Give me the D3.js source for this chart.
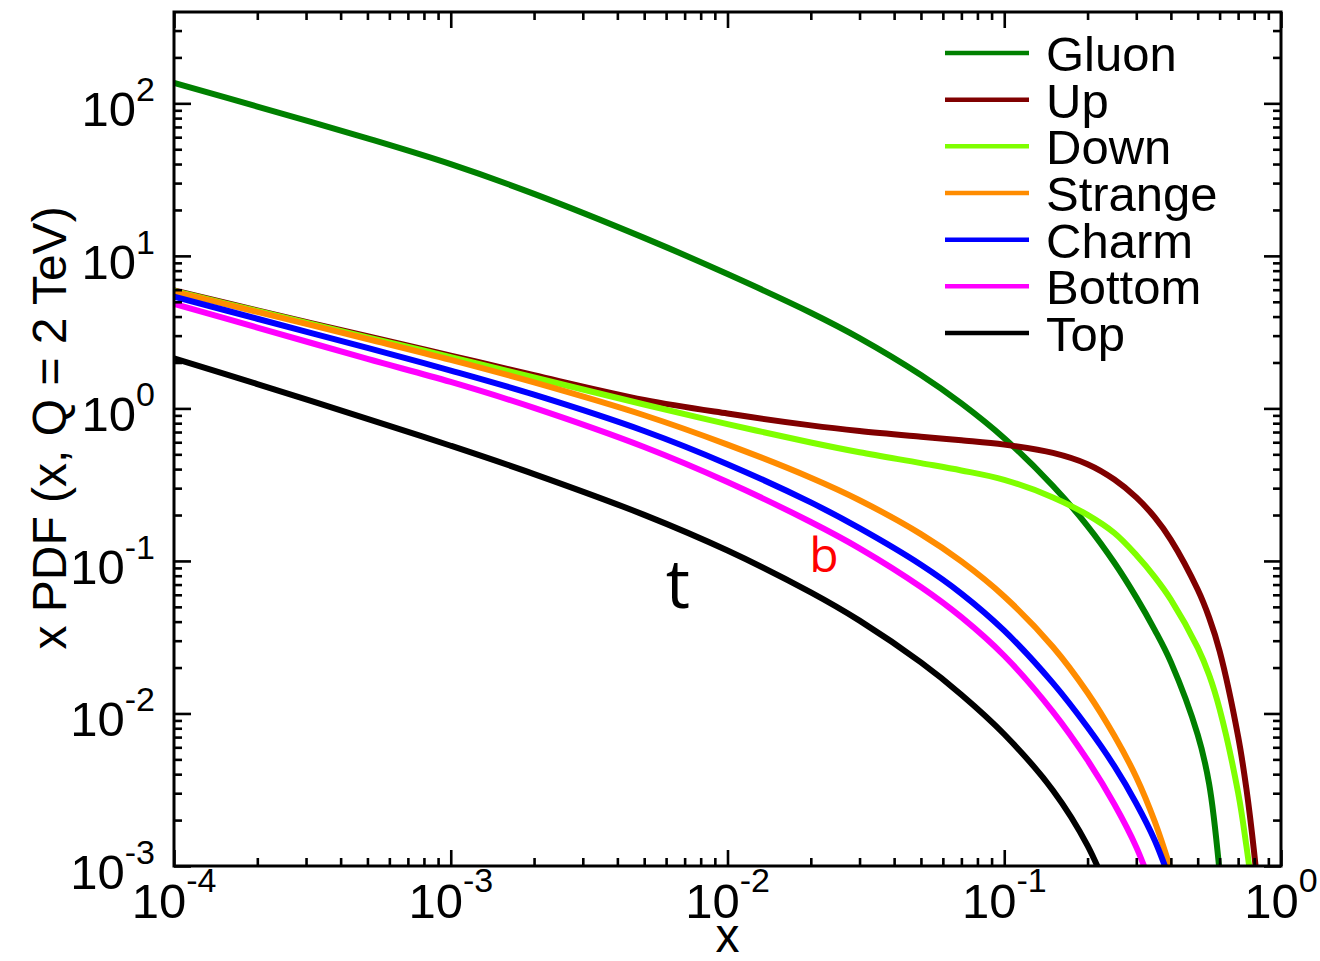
<!DOCTYPE html>
<html>
<head>
<meta charset="utf-8">
<script src="https://cdn.jsdelivr.net/npm/d3@7"></script>
<style>
  html, body { margin: 0; padding: 0; background: #fff; }
  svg { display: block; }
  text { font-family: "Liberation Sans", Arial, Helvetica, sans-serif; fill: #000; }
</style>
</head>
<body>
<svg id="chart" width="1320" height="961"></svg>
<script>
// ---------------- data ----------------
const xs = [1e-4, 2e-4, 5e-4, 1e-3, 2e-3, 5e-3, 0.01, 0.02, 0.03, 0.05, 0.07, 0.1,
            0.15, 0.2, 0.25, 0.3, 0.35, 0.4, 0.5, 0.55, 0.6, 0.7, 0.75, 0.8, 0.82];

const gluon   = [136, 95.3, 58.9, 39.9, 25.5, 13.12, 7.60, 4.24, 2.89, 1.656, 1.079, 0.638,
                 0.310, 0.1694, 0.0973, 0.0577, 0.0352, 0.0217, 0.00726, 0.00345, 0.000914, null, null, null, null];
const up      = [5.94, 4.39, 2.97, 2.22, 1.65, 1.137, 0.925, 0.774, 0.711, 0.652, 0.618, 0.579,
                 0.511, 0.431, 0.342, 0.261, 0.193, 0.1375, 0.0649, 0.0425, 0.0257, 0.00706, 0.0032, 0.00122, 0.000774];
const down    = [5.89, 4.35, 2.92, 2.17, 1.595, 1.061, 0.789, 0.598, 0.516, 0.438, 0.392, 0.340,
                 0.261, 0.2004, 0.1524, 0.1094, 0.0784, 0.0558, 0.0270, 0.01786, 0.01069, 0.00302, 0.00135, 0.000558, null];
const strange = [5.83, 4.29, 2.85, 2.08, 1.48, 0.902, 0.579, 0.351, 0.250, 0.150, 0.0993, 0.0585,
                 0.0273, 0.01368, 0.00714, 0.00382, 0.00195, 0.000946, null, null, null, null, null, null, null];
const charm   = [5.41, 3.87, 2.49, 1.77, 1.23, 0.711, 0.431, 0.242, 0.164, 0.0944, 0.0611, 0.0349,
                 0.0158, 0.00811, 0.00451, 0.00257, 0.00147, 0.00078, null, null, null, null, null, null, null];
const bottom  = [4.84, 3.39, 2.11, 1.49, 1.007, 0.558, 0.329, 0.180, 0.121, 0.0675, 0.0428, 0.0239,
                 0.01025, 0.00494, 0.00254, 0.00133, 0.000644, null, null, null, null, null, null, null, null];
const top_    = [2.13, 1.445, 0.855, 0.569, 0.371, 0.2005, 0.117, 0.0622, 0.0406, 0.0216, 0.01328, 0.00731,
                 0.00313, 0.00136, 0.000536, null, null, null, null, null, null, null, null, null, null];

const seriesNames  = ["Gluon", "Up", "Down", "Strange", "Charm", "Bottom", "Top"];
const seriesValues = [gluon, up, down, strange, charm, bottom, top_];
const seriesColors = ["#008000", "#800000", "#7fff00", "#ff8c00", "#0000ff", "#ff00ff", "#000000"];

const xTickExps = [-4, -3, -2, -1, 0];
const yTickExps = [-3, -2, -1, 0, 1, 2];

const xTitle = "x";
const yTitle = "x PDF (x, Q = 2 TeV)";
const annotations = [
  { text: "t", x: 0.00662, y: 0.0492, color: "#000000", size: 68 },
  { text: "b", x: 0.0223, y: 0.0847, color: "#ff0000", size: 48 }
];

// ---------------- layout ----------------
const L = 174, R = 1281, T = 12, B = 866;
const svg = d3.select("#chart");
svg.append("rect").attr("width", 1320).attr("height", 961).attr("fill", "#fff");

const x = d3.scaleLog().domain([1e-4, 1]).range([L, R]);
const y = d3.scaleLog().domain([1e-3, 397]).range([B, T]);

svg.append("clipPath").attr("id", "plotclip")
  .append("rect").attr("x", L).attr("y", T).attr("width", R - L).attr("height", B - T);

// ---------------- curves ----------------
const line = d3.line()
  .defined(d => d[1] != null)
  .x(d => x(d[0]))
  .y(d => y(d[1]))
  .curve(d3.curveCatmullRom.alpha(0.5));

const curves = svg.append("g").attr("clip-path", "url(#plotclip)");
seriesValues.forEach((vals, i) => {
  const pts = xs.map((xv, j) => [xv, vals[j]]);
  curves.append("path")
    .datum(pts)
    .attr("d", line)
    .attr("fill", "none")
    .attr("stroke", seriesColors[i])
    .attr("stroke-width", 6)
    .attr("stroke-linejoin", "round");
});

// ---------------- ticks (all four sides, pointing inward) ----------------
const isPow10 = v => Math.abs(Math.log10(v) - Math.round(Math.log10(v))) < 1e-9;
const xMajor = xTickExps.map(e => Math.pow(10, e));
const xMinor = x.ticks().filter(v => !isPow10(v));
const yMajor = yTickExps.map(e => Math.pow(10, e));
const yMinor = y.ticks().filter(v => !isPow10(v));

function drawAxis(gen, transform, vals, size) {
  const g = svg.append("g").attr("transform", transform)
    .call(gen.tickValues(vals).tickSizeInner(size).tickSizeOuter(0).tickFormat(""));
  g.select(".domain").remove();
  g.selectAll(".tick line").attr("stroke", "#000").attr("stroke-width", 2.6);
  return g;
}
drawAxis(d3.axisBottom(x), `translate(0,${B})`, xMajor, -16);
drawAxis(d3.axisBottom(x), `translate(0,${B})`, xMinor, -8);
drawAxis(d3.axisTop(x), `translate(0,${T})`, xMajor, -16);
drawAxis(d3.axisTop(x), `translate(0,${T})`, xMinor, -8);
drawAxis(d3.axisLeft(y), `translate(${L},0)`, yMajor, -17);
drawAxis(d3.axisLeft(y), `translate(${L},0)`, yMinor, -8);
drawAxis(d3.axisRight(y), `translate(${R},0)`, yMajor, -17);
drawAxis(d3.axisRight(y), `translate(${R},0)`, yMinor, -8);

// frame
svg.append("rect")
  .attr("x", L).attr("y", T).attr("width", R - L).attr("height", B - T)
  .attr("fill", "none").attr("stroke", "#000").attr("stroke-width", 3);

// ---------------- tick labels ----------------
xTickExps.forEach(e => {
  const t = svg.append("text")
    .attr("x", x(Math.pow(10, e)))
    .attr("y", B + 52)
    .attr("text-anchor", "middle")
    .style("font-size", "49px");
  t.append("tspan").text("10");
  t.append("tspan").attr("dy", -26).style("font-size", "34px").text(String(e));
});
yTickExps.forEach(e => {
  const t = svg.append("text")
    .attr("x", 155)
    .attr("y", y(Math.pow(10, e)) + 23)
    .attr("text-anchor", "end")
    .style("font-size", "49px");
  t.append("tspan").text("10");
  t.append("tspan").attr("dy", -25).style("font-size", "34px").text(String(e));
});

// ---------------- axis titles ----------------
svg.append("text")
  .attr("x", (L + R) / 2)
  .attr("y", 952)
  .attr("text-anchor", "middle")
  .style("font-size", "48px")
  .text(xTitle);

svg.append("text")
  .attr("transform", "translate(66,428) rotate(-90)")
  .attr("text-anchor", "middle")
  .style("font-size", "48px")
  .text(yTitle);

// ---------------- annotations ----------------
annotations.forEach(a => {
  svg.append("text")
    .attr("x", x(a.x))
    .attr("y", y(a.y))
    .attr("text-anchor", "middle")
    .style("font-family", "'Open Sans', 'Noto Sans', sans-serif")
    .style("font-size", a.size + "px")
    .style("fill", a.color)
    .text(a.text);
});

// ---------------- legend ----------------
const legend = svg.append("g");
seriesNames.forEach((name, i) => {
  const ly = 53 + i * 46.67;
  legend.append("line")
    .attr("x1", 945).attr("x2", 1029)
    .attr("y1", ly).attr("y2", ly)
    .attr("stroke", seriesColors[i])
    .attr("stroke-width", 4.5);
  legend.append("text")
    .attr("x", 1046)
    .attr("y", ly + 18)
    .style("font-size", "49px")
    .text(name);
});
</script>
</body>
</html>
